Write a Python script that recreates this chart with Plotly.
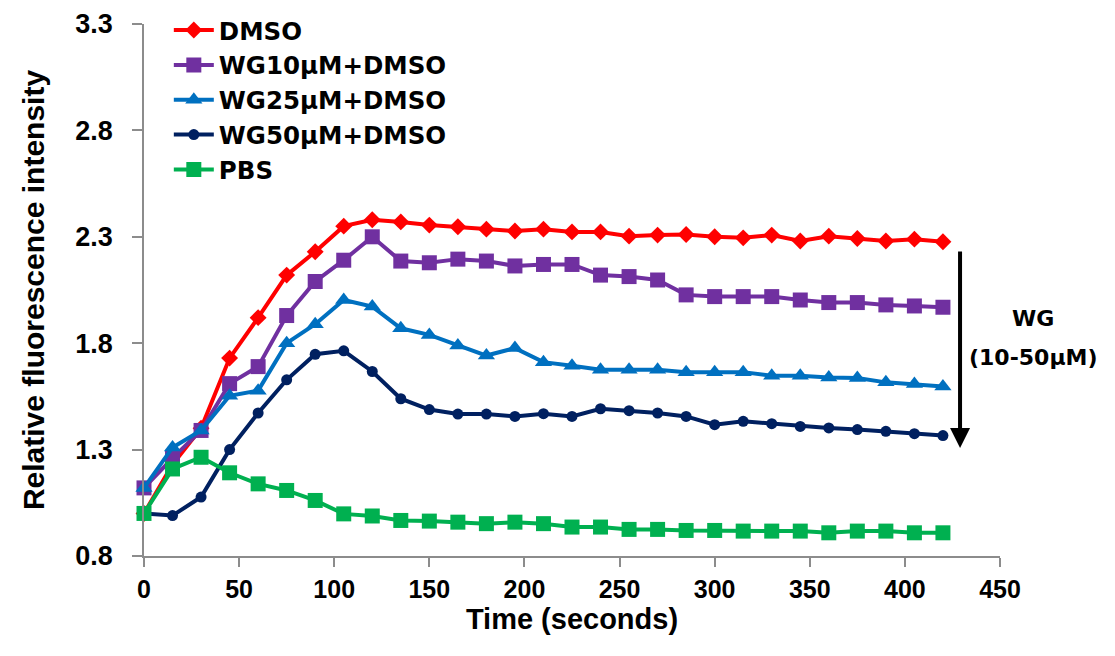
import plotly.graph_objects as go

time_s = [0, 15, 30, 45, 60, 75, 90, 105, 120, 135, 150, 165, 180, 195, 210,
          225, 240, 255, 270, 285, 300, 315, 330, 345, 360, 375, 390, 405, 420]

dmso = [1.00, 1.23, 1.40, 1.73, 1.92, 2.12, 2.23, 2.35, 2.38, 2.37, 2.355, 2.347, 2.336, 2.327, 2.336,
        2.323, 2.323, 2.303, 2.308, 2.311, 2.300, 2.295, 2.308, 2.280, 2.303, 2.292, 2.280, 2.289, 2.277]
wg10 = [1.12, 1.26, 1.39, 1.61, 1.69, 1.93, 2.09, 2.19, 2.30, 2.186, 2.178, 2.195, 2.186, 2.163, 2.170,
        2.170, 2.120, 2.113, 2.097, 2.027, 2.019, 2.019, 2.019, 2.003, 1.991, 1.991, 1.980, 1.975, 1.969]
wg25 = [1.12, 1.31, 1.39, 1.553, 1.577, 1.80, 1.889, 2.003, 1.972, 1.870, 1.839, 1.789, 1.742, 1.777, 1.711,
        1.694, 1.675, 1.675, 1.675, 1.664, 1.664, 1.664, 1.647, 1.647, 1.639, 1.636, 1.616, 1.608, 1.597]
wg50 = [1.00, 0.99, 1.077, 1.30, 1.472, 1.628, 1.748, 1.764, 1.667, 1.539, 1.488, 1.467, 1.467, 1.456, 1.469,
        1.456, 1.492, 1.483, 1.472, 1.456, 1.417, 1.433, 1.422, 1.409, 1.402, 1.394, 1.386, 1.375, 1.366]
pbs = [1.00, 1.209, 1.264, 1.191, 1.139, 1.108, 1.061, 0.998, 0.988, 0.967, 0.964, 0.959, 0.952, 0.959, 0.952,
       0.936, 0.936, 0.925, 0.925, 0.920, 0.920, 0.917, 0.917, 0.917, 0.909, 0.917, 0.917, 0.909, 0.909]

series_names = ["DMSO", "WG10μM+DMSO", "WG25μM+DMSO", "WG50μM+DMSO", "PBS"]
series_values = [dmso, wg10, wg25, wg50, pbs]
colors = ["#FF0000", "#7030A0", "#0070C0", "#002060", "#00B050"]
symbols = ["diamond", "square", "triangle-up", "circle", "square"]
sizes = [13, 15, 15, 11, 15]

y_ticks = [0.8, 1.3, 1.8, 2.3, 2.8, 3.3]
x_ticks = [0, 50, 100, 150, 200, 250, 300, 350, 400, 450]

FONT = "Liberation Sans, Arial, sans-serif"
WIDE = "DejaVu Sans, Liberation Sans, sans-serif"

fig = go.Figure()
for name, vals, c, s, sz in zip(series_names, series_values, colors, symbols, sizes):
    fig.add_trace(go.Scatter(
        x=time_s, y=vals, name=f"<b>{name}</b>", mode="lines+markers",
        line=dict(color=c, width=4),
        marker=dict(color=c, symbol=s, size=sz, line=dict(width=0)),
        cliponaxis=False,
    ))

fig.update_layout(
    width=1115, height=656,
    margin=dict(l=136, r=123, t=16, b=108, autoexpand=False),
    paper_bgcolor="white", plot_bgcolor="white",
    font=dict(family=FONT, color="black", size=22),
    showlegend=True,
    legend=dict(
        x=0.029, y=1.0308, xanchor="left", yanchor="top",
        font=dict(family=WIDE, size=24.5, color="black"),
        bgcolor="rgba(0,0,0,0)", itemwidth=40, tracegroupgap=0,
    ),
    xaxis=dict(
        range=[0, 450], tickvals=x_ticks, ticktext=[f"<b>{v}</b>" for v in x_ticks],
        showgrid=False, zeroline=False, showline=True, linecolor="#8c8c8c", linewidth=1.5,
        ticks="outside", ticklen=9, tickcolor="#8c8c8c", tickwidth=1.5,
        ticklabelstandoff=1, ticklabeloverflow="allow",
        tickfont=dict(family=FONT, size=25, color="black"),
        title=dict(text="<b>Time (seconds)</b>", font=dict(family=FONT, size=29, color="black"),
                   standoff=0),
    ),
    yaxis=dict(
        range=[0.8, 3.3], tickvals=y_ticks, ticktext=[f"<b>{v:.1f}</b>" for v in y_ticks],
        showgrid=False, zeroline=False, showline=True, linecolor="#8c8c8c", linewidth=1.5,
        ticks="outside", ticklen=10, tickcolor="#8c8c8c", tickwidth=1.5,
        ticklabelstandoff=14, ticklabeloverflow="allow",
        tickfont=dict(family=FONT, size=27, color="black"),
        title=dict(text="<b>Relative fluorescence intensity</b>",
                   font=dict(family=FONT, size=30, color="black"), standoff=22),
    ),
)

# Arrow indicating WG concentration increase
fig.add_annotation(
    x=429, y=1.3075, ax=429, ay=2.238, xref="x", yref="y", axref="x", ayref="y",
    showarrow=True, arrowhead=2, arrowsize=1, arrowwidth=4, arrowcolor="black", text="",
)
fig.add_annotation(
    x=1.0386, y=0.4455, xref="paper", yref="paper", xanchor="center", yanchor="middle", showarrow=False,
    text="<b>WG</b>", font=dict(family=WIDE, size=22, color="black"),
)
fig.add_annotation(
    x=1.0386, y=0.374, xref="paper", yref="paper", xanchor="center", yanchor="middle", showarrow=False,
    text="<b>(10-50μM)</b>", font=dict(family=WIDE, size=22, color="black"),
)

fig.write_html("out.html")
